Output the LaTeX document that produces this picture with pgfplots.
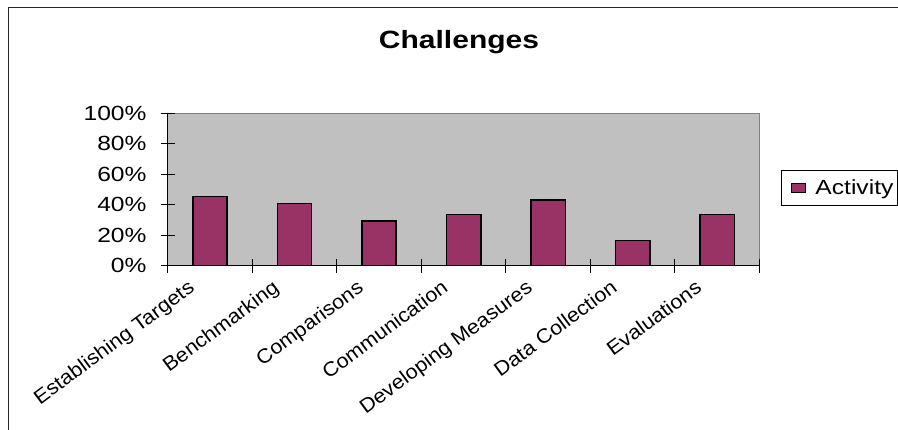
\documentclass[border=0pt]{standalone}
\usepackage{fontspec}
\setmainfont[FakeStretch=1.2]{Liberation Sans}
\newfontfamily\xlabfont[FakeStretch=1.08]{Liberation Sans}
\usepackage{pgfplots}
\pgfplotsset{compat=1.18}
\definecolor{barcol}{HTML}{993366}
\definecolor{plotgray}{HTML}{C0C0C0}
\definecolor{bordgray}{HTML}{808080}
\begin{document}
\begin{tikzpicture}[x=1pt,y=1pt]
\useasboundingbox (0,0) rectangle (898,430);
\clip (0,0) rectangle (898,430);
\fill[white] (0,0) rectangle (898,430);
\draw[line width=1.5pt, black!85] (8.5,-10) -- (8.5,422.7) -- (910,422.7);
\node[font=\fontsize{25}{30}\selectfont\bfseries] at (459,388) {Challenges};
\begin{axis}[at={(167.7pt,164.3pt)}, anchor=south west, scale only axis,
  width=591.8pt, height=152.4pt,
  xmin=-0.5, xmax=6.5, ymin=0, ymax=100,
  axis x line=bottom, axis y line=left,
  axis line style={-, black, line width=1pt},
  axis background/.style={fill=plotgray, draw=bordgray, line width=1pt},
  ybar, bar width=34.3pt,
  xtick={-0.5,0.5,1.5,2.5,3.5,4.5,5.5,6.5},
  x tick label as interval,
  xticklabels={Establishing Targets,Benchmarking,Comparisons,Communication,Developing Measures,Data Collection,Evaluations},
  ytick={0,20,40,60,80,100},
  yticklabels={0\%,20\%,40\%,60\%,80\%,100\%},
  tick align=center, major tick length=14pt,
  tick style={black, line width=1pt},
  yticklabel style={font=\fontsize{20.5}{24}\selectfont, inner sep=0pt, xshift=-14pt},
  xticklabel style={font=\xlabfont\fontsize{20}{24}\selectfont, rotate=36.5, anchor=north east, inner sep=0pt, xshift=-22pt, yshift=9pt},
  legend style={at={(1.0363,0.628)}, anchor=north west, draw=black, line width=1pt,
    font=\fontsize{20.5}{24}\selectfont, inner xsep=2pt, inner ysep=7.5pt},
]
\addplot[fill=barcol, draw=black, line width=1.5pt,
  legend image code/.code={\path[draw=none, fill=none] (-8pt,0pt) -- (22pt,0pt);
    \draw[fill=barcol, draw=black, line width=1pt] (0pt,-4.7pt) rectangle (14pt,4.7pt);}]
  coordinates {(0,45.3) (1,40.9) (2,29.3) (3,33.7) (4,43.1) (5,16.4) (6,33.7)};
\legend{Activity}
\end{axis}
\end{tikzpicture}
\end{document}
